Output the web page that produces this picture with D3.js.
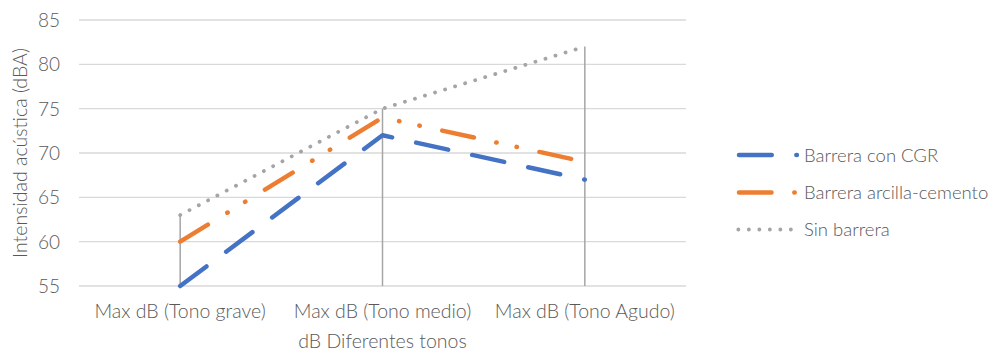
<!DOCTYPE html>
<html>
<head>
<meta charset="utf-8">
<script src="https://cdn.jsdelivr.net/npm/d3@7"></script>
<style>
  html, body { margin: 0; padding: 0; background: #fff; }
  svg { display: block; }
  text { font-family: Lato, "Open Sans", sans-serif; font-weight: 300; fill: #595959; }
</style>
</head>
<body>
<svg id="chart" width="995" height="356"></svg>
<script>
// Categories and series values (dBA)
const categories = ["Max dB (Tono grave)", "Max dB (Tono medio)", "Max dB (Tono Agudo)"];
const barreraCGR = [55, 72, 67];
const barreraArcilla = [60, 74, 69];
const sinBarrera = [63, 75, 82];
const seriesNames = ["Barrera con CGR", "Barrera arcilla-cemento", "Sin barrera"];
const yTicks = [55, 60, 65, 70, 75, 80, 85];
const yTitle = "Intensidad acústica (dBA)";
const xTitle = "dB Diferentes tonos";

const series = [
  { name: seriesNames[0], values: barreraCGR, color: "#4472C4", width: 4.5, dash: "32.75,24.6" },
  { name: seriesNames[1], values: barreraArcilla, color: "#ED7D31", width: 4.5, dash: "32.5,22.8,0.4,20.4,0.4,23" },
  { name: seriesNames[2], values: sinBarrera, color: "#A5A5A5", width: 3.8, dash: "0.1,10.4" }
];

const svg = d3.select("#chart");
const plot = { left: 79, right: 686, top: 20, bottom: 286 };

const x = d3.scalePoint().domain(categories).range([plot.left, plot.right]).padding(0.5);
const y = d3.scaleLinear().domain([55, 85]).range([plot.bottom, plot.top]);

// Horizontal gridlines
svg.append("g").selectAll("line").data(yTicks).join("line")
  .attr("x1", plot.left).attr("x2", plot.right)
  .attr("y1", d => y(d)).attr("y2", d => y(d))
  .attr("stroke", "#D9D9D9").attr("stroke-width", 1.3);

// Y tick labels
svg.append("g").selectAll("text").data(yTicks).join("text")
  .attr("x", 60).attr("y", d => y(d))
  .attr("text-anchor", "end").attr("dy", "0.36em")
  .style("font-size", "19px")
  .text(d => d);

// Drop lines from the highest value down to the axis
svg.append("g").selectAll("line").data(categories).join("line")
  .attr("x1", d => x(d)).attr("x2", d => x(d))
  .attr("y1", (d, i) => y(d3.max(series, s => s.values[i])))
  .attr("y2", plot.bottom)
  .attr("stroke", "#A5A5A5").attr("stroke-width", 1.5);

// Series lines
const line = d3.line().x((d, i) => x(categories[i])).y(d => y(d));
svg.append("g").selectAll("path").data(series).join("path")
  .attr("d", d => line(d.values))
  .attr("fill", "none")
  .attr("stroke", d => d.color)
  .attr("stroke-width", d => d.width)
  .attr("stroke-dasharray", d => d.dash)
  .attr("stroke-linecap", "round")
  .attr("stroke-linejoin", "round");

// Category labels
svg.append("g").selectAll("text").data(categories).join("text")
  .attr("x", d => x(d)).attr("y", 318)
  .attr("text-anchor", "middle")
  .style("font-size", "19.5px")
  .text(d => d);

// Axis titles
svg.append("text")
  .attr("x", (plot.left + plot.right) / 2).attr("y", 348)
  .attr("text-anchor", "middle")
  .style("font-size", "19.5px")
  .text(xTitle);

svg.append("text")
  .attr("transform", `translate(27,${(plot.top + plot.bottom) / 2}) rotate(-90)`)
  .attr("text-anchor", "middle")
  .style("font-size", "19.5px")
  .text(yTitle);

// Legend
const legendY = [155, 192.5, 229.5];
const legend = svg.append("g").selectAll("g").data(series).join("g")
  .attr("transform", (d, i) => `translate(0,${legendY[i]})`);
legend.append("line")
  .attr("x1", (d, i) => i === 2 ? 738.3 : 739)
  .attr("x2", (d, i) => i === 2 ? 792 : 796.9)
  .attr("y1", 0).attr("y2", 0)
  .attr("stroke", d => d.color)
  .attr("stroke-width", d => d.width)
  .attr("stroke-dasharray", d => d.dash)
  .attr("stroke-linecap", "round");
legend.append("text")
  .attr("x", 804).attr("y", 0).attr("dy", "0.36em")
  .style("font-size", "18.5px")
  .text(d => d.name);
</script>
</body>
</html>
